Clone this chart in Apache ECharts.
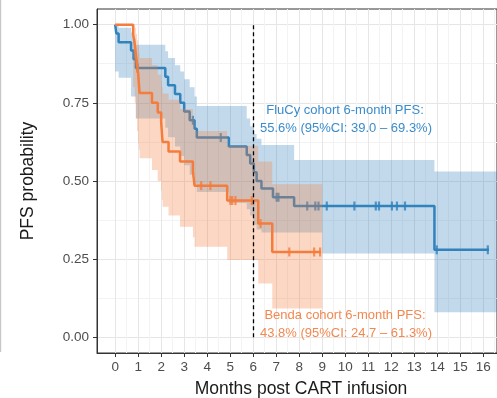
<!DOCTYPE html>
<html><head><meta charset="utf-8">
<script src="https://cdn.jsdelivr.net/npm/echarts@6/dist/echarts.min.js"></script>
<style>html,body{margin:0;padding:0;background:#fff}#c{width:497px;height:398px}</style>
</head><body><div id="c"></div>
<script>
// ---- tick labels ----
const xTicks = [0,1,2,3,4,5,6,7,8,9,10,11,12,13,14,15,16];
const xMinor = [0.5,1.5,2.5,3.5,4.5,5.5,6.5,7.5,8.5,9.5,10.5,11.5,12.5,13.5,14.5,15.5,16.5];
const yTicks = [0,0.25,0.5,0.75,1];
const yMinor = [0.125,0.375,0.625,0.875];
const landmark = 6;

// ---- FluCy cohort (KM steps) ----
const fluTime = [0,0.05,0.15,0.69,0.8,0.9,2.18,2.3,2.6,2.83,3.0,3.24,3.45,3.55,4.94,5.72,5.87,6.03,6.15,6.36,6.86,7.78,13.88,16.25];
const fluSurv = [1.0,0.972,0.944,0.917,0.889,0.861,0.833,0.806,0.778,0.75,0.722,0.694,0.667,0.639,0.61,0.583,0.556,0.528,0.50,0.476,0.448,0.42,0.28,0.28];
const fluCensor = [0.97,3.38,4.59,7.02,7.1,8.35,8.70,8.84,9.2,10.4,11.33,11.47,12.03,12.25,12.6,13.98,16.2];
const fluUpTime = [0,0.15,0.69,0.8,0.9,2.18,2.3,2.6,2.83,3.0,3.24,3.45,3.55,5.72,5.87,6.03,6.15,6.36,7.78,13.88,16.7];
const fluUp     = [1.0,0.99,0.975,0.955,0.936,0.915,0.893,0.87,0.85,0.825,0.80,0.77,0.74,0.70,0.675,0.65,0.635,0.615,0.567,0.53,0.53];
const fluLoTime = [0,0.15,0.69,0.9,2.18,2.3,2.6,2.83,3.0,3.24,3.45,3.55,4.94,5.72,5.87,6.03,6.15,6.36,9.0,13.88,16.7];
const fluLo     = [0.85,0.83,0.77,0.70,0.67,0.64,0.61,0.58,0.55,0.52,0.49,0.465,0.43,0.41,0.39,0.36,0.345,0.335,0.268,0.08,0.08];

// ---- Benda cohort (KM steps) ----
const bendaTime = [0,0.78,0.85,0.9,0.95,1.0,1.03,1.06,1.6,1.85,2.0,2.03,2.06,2.32,2.82,3.38,3.45,4.87,6.22,6.83,8.95];
const bendaSurv = [1.0,0.969,0.938,0.906,0.875,0.844,0.812,0.781,0.75,0.719,0.688,0.656,0.625,0.594,0.562,0.531,0.485,0.4375,0.364,0.273,0.273];
const bendaCensor = [3.74,4.14,5.01,5.09,5.23,5.94,6.32,7.57,8.65,8.91];
const bendaBandTime = [0,0.78,0.85,0.9,0.95,1.0,1.03,1.06,1.6,1.85,2.0,2.03,2.06,2.32,2.82,3.38,3.45,4.87,6.22,6.83,9.0];
const bendaUp = [1.0,1.0,0.99,0.97,0.95,0.93,0.91,0.893,0.87,0.84,0.82,0.80,0.78,0.76,0.73,0.70,0.66,0.613,0.562,0.49,0.49];
const bendaLo = [1.0,0.80,0.75,0.70,0.66,0.62,0.60,0.573,0.535,0.50,0.47,0.44,0.418,0.39,0.354,0.32,0.29,0.247,0.172,0.092,0.092];

const BLUE = '#3182bd', ORANGE = '#f47c3c';

function stepAt(times, vals, t){ let v = vals[0]; for (let i=0;i<times.length;i++){ if (times[i] <= t) v = vals[i]; } return v; }
function pairs(times, vals){ return times.map((t,i)=>[t, vals[i]]); }
function stepPts(times, vals){
  const out = [];
  for (let i=0;i<times.length;i++){
    out.push([times[i], vals[i]]);
    if (i < times.length-1) out.push([times[i+1], vals[i]]);
  }
  return out;
}
function bandSeries(upT, up, loT, lo, color, z){
  const upper = stepPts(upT, up);
  const lower = stepPts(loT, lo).reverse();
  return {
    type: 'custom', z: z, silent: true, clip: true,
    data: [[0,0]],
    renderItem: function(params, api){
      const pts = upper.concat(lower).map(p => api.coord(p));
      return { type: 'polygon', shape: { points: pts }, style: { fill: color } };
    }
  };
}

const chart = echarts.init(document.getElementById('c'), null, {renderer:'canvas'});
const axisLabelStyle = { color:'#4d4d4d', fontSize: 13.5, fontFamily: 'Liberation Sans, Arial, sans-serif' };
chart.setOption({
  animation: false,
  grid: { left: 97, top: 9, width: 409, height: 344, show: true, borderColor: '#333', borderWidth: 1, backgroundColor: 'transparent' },
  xAxis: [
    { type:'value', min:-0.79, max:16.6,
      axisLine:{show:true, onZero:false, lineStyle:{color:'#333'}},
      axisTick:{show:true, length:4, lineStyle:{color:'#333'}, customValues:xTicks},
      axisLabel:Object.assign({customValues:xTicks, margin:7}, axisLabelStyle),
      splitLine:{show:true, lineStyle:{color:'#e6e6e6', width:1}} },
    { type:'value', min:-0.79, max:16.6, position:'bottom',
      axisLine:{show:false, onZero:false}, axisTick:{show:false, customValues:xMinor}, axisLabel:{show:false, customValues:xMinor},
      splitLine:{show:true, lineStyle:{color:'#f3f3f3', width:1}} }
  ],
  yAxis: [
    { type:'value', min:-0.05, max:1.05,
      axisLine:{show:true, onZero:false, lineStyle:{color:'#333'}},
      axisTick:{show:true, length:4, lineStyle:{color:'#333'}, customValues:yTicks},
      axisLabel:Object.assign({customValues:yTicks, margin:8, formatter:v=>v.toFixed(2)}, axisLabelStyle),
      splitLine:{show:true, lineStyle:{color:'#e6e6e6', width:1}} },
    { type:'value', min:-0.05, max:1.05, position:'left',
      axisLine:{show:false, onZero:false}, axisTick:{show:false, customValues:yMinor}, axisLabel:{show:false, customValues:yMinor},
      splitLine:{show:true, lineStyle:{color:'#f3f3f3', width:1}} }
  ],
  series: [
    bandSeries(fluUpTime, fluUp, fluLoTime, fluLo, 'rgba(49,130,189,0.30)', 1),
    { type:'line', z:2, step:'end', showSymbol:false, data: pairs(fluTime, fluSurv),
      lineStyle:{color:BLUE, width:2.5}, itemStyle:{color:BLUE} },
    { type:'scatter', z:2, symbol:'rect', symbolSize:[2.2,9], itemStyle:{color:BLUE},
      data: fluCensor.map(t=>[t, stepAt(fluTime, fluSurv, t)]) },
    bandSeries(bendaBandTime, bendaUp, bendaBandTime, bendaLo, 'rgba(245,125,60,0.30)', 3),
    { type:'line', z:4, step:'end', showSymbol:false, data: pairs(bendaTime, bendaSurv),
      lineStyle:{color:ORANGE, width:2.5}, itemStyle:{color:ORANGE},
      markLine:{ silent:true, symbol:['none','none'], label:{show:false},
        lineStyle:{color:'#000', type:[4,3], width:1.3},
        data:[[{coord:[landmark,0]},{coord:[landmark,1]}]] } },
    { type:'scatter', z:4, symbol:'rect', symbolSize:[2.2,9], itemStyle:{color:ORANGE},
      data: bendaCensor.map(t=>[t, stepAt(bendaTime, bendaSurv, t)]) }
  ],
  graphic: [
    { type:'rect', left:0, top:0, shape:{x:0,y:0,width:1.2,height:352}, style:{fill:'#c8c8c8'} },
    { type:'text', x:28, y:181, rotation:Math.PI/2, style:{ text:'PFS probability', fill:'#1a1a1a', font:'17.5px "Liberation Sans", Arial, sans-serif', align:'center', verticalAlign:'middle' } },
    { type:'text', x:301, y:389, style:{ text:'Months post CART infusion', fill:'#1a1a1a', font:'17.5px "Liberation Sans", Arial, sans-serif', align:'center', verticalAlign:'middle' } },
    { type:'text', x:345, y:110, z:100, style:{ text:'FluCy cohort 6-month PFS:', fill:'#3a8ccc', font:'13px "Liberation Sans", Arial, sans-serif', align:'center', verticalAlign:'middle' } },
    { type:'text', x:346, y:128, z:100, style:{ text:'55.6% (95%CI: 39.0 – 69.3%)', fill:'#3a8ccc', font:'13px "Liberation Sans", Arial, sans-serif', align:'center', verticalAlign:'middle' } },
    { type:'text', x:345, y:315, z:100, style:{ text:'Benda cohort 6-month PFS:', fill:'#f28850', font:'13px "Liberation Sans", Arial, sans-serif', align:'center', verticalAlign:'middle' } },
    { type:'text', x:346, y:333, z:100, style:{ text:'43.8% (95%CI: 24.7 – 61.3%)', fill:'#f28850', font:'13px "Liberation Sans", Arial, sans-serif', align:'center', verticalAlign:'middle' } }
  ]
});
</script>
</body></html>
